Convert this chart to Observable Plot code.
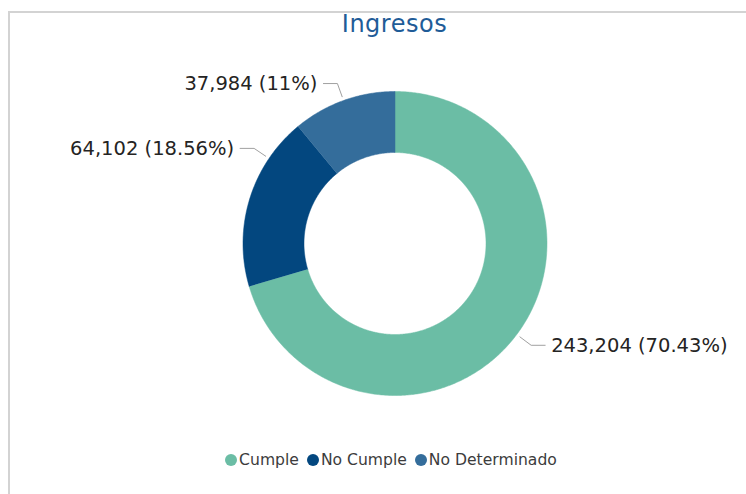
<!DOCTYPE html>
<html><head><meta charset="utf-8">
<script src="https://cdn.jsdelivr.net/npm/d3@7"></script>
<script src="https://cdn.jsdelivr.net/npm/@observablehq/plot@0.6"></script>
<style>
html,body{margin:0;padding:0;background:#fff;width:746px;height:494px;overflow:hidden;position:relative;font-family:"DejaVu Sans",Verdana,sans-serif;}
#frame{position:absolute;left:8px;top:11px;width:760px;height:500px;border:2px solid #d3d3d3;box-sizing:border-box;pointer-events:none;z-index:5}
#title{position:absolute;left:0;top:4px;width:789px;text-align:center;font-size:24px;line-height:40px;color:#1f5c98;letter-spacing:0.5px}
#chart{position:absolute;left:0;top:40px}
#legend{position:absolute;left:0;top:448px;width:782px;height:24px;display:flex;justify-content:center;align-items:center;font-size:15.6px;color:#3c3c3c}
.item{display:flex;align-items:center;margin:0 4px}
.sw{width:12px;height:12px;border-radius:50%;margin-right:2px}
</style></head>
<body>
<div id="title"></div><div id="chart"></div><div id="legend"></div><div id="frame"></div>
<script>
const title = "Ingresos";
const categories = ["Cumple", "No Cumple", "No Determinado"];
const values = [243204, 64102, 37984];
const colors = ["#6bbda5", "#03477f", "#346d9b"];

const total = d3.sum(values);
const fmtNum = d3.format(",");
const fmtPct = d3.format(".2~%");

document.getElementById("title").textContent = title;

const R = 152, cxPx = 394.5, W = 746, H = 400, cyPx = 203;
const ri = 91 / 152;
const arcs = d3.pie().sort(null).value(d => d)(values);

const poly = [];
arcs.forEach((a, i) => {
  const n = Math.max(8, Math.ceil((a.endAngle - a.startAngle) * 180 / Math.PI * 2));
  for (let k = 0; k <= n; k++) {
    const t = a.startAngle + (a.endAngle - a.startAngle) * k / n;
    poly.push({cat: categories[i], x: Math.sin(t), y: Math.cos(t)});
  }
  for (let k = n; k >= 0; k--) {
    const t = a.startAngle + (a.endAngle - a.startAngle) * k / n;
    poly.push({cat: categories[i], x: ri * Math.sin(t), y: ri * Math.cos(t)});
  }
});

const anchorFrac = [0.5, 0.755, 0.5];
const r1 = 156 / R, r2 = 170 / R, hlen = 14 / R;
const leaders = [], labels = [];
arcs.forEach((a, i) => {
  const t = a.startAngle + (a.endAngle - a.startAngle) * anchorFrac[i];
  const s = Math.sin(t) >= 0 ? 1 : -1;
  const ex = r2 * Math.sin(t), ey = r2 * Math.cos(t);
  leaders.push({i, x: r1 * Math.sin(t), y: r1 * Math.cos(t)}, {i, x: ex, y: ey}, {i, x: ex + s * hlen, y: ey});
  labels.push({x: ex + s * hlen, y: ey, side: s, text: `${fmtNum(values[i])} (${fmtPct(values[i] / total)})`});
});

const plot = Plot.plot({
  width: W, height: H, margin: 0,
  x: {domain: [-cxPx / R, (W - cxPx) / R], axis: null},
  y: {domain: [-(H - cyPx) / R, cyPx / R], axis: null},
  color: {domain: categories, range: colors},
  style: {background: "transparent", fontFamily: "DejaVu Sans, sans-serif"},
  marks: [
    Plot.line(poly, {x: "x", y: "y", z: "cat", fill: "cat", stroke: "cat", strokeWidth: 0.5}),
    Plot.line(leaders, {x: "x", y: "y", z: "i", stroke: "#a0a0a0", strokeWidth: 1}),
    Plot.text(labels.filter(d => d.side > 0), {x: "x", y: "y", text: "text", textAnchor: "start", dx: 6, fontSize: 19.5, fill: "#252423"}),
    Plot.text(labels.filter(d => d.side < 0), {x: "x", y: "y", text: "text", textAnchor: "end", dx: -6, fontSize: 19.5, fill: "#252423"})
  ]
});
document.getElementById("chart").appendChild(plot);

const legend = document.getElementById("legend");
categories.forEach((c, i) => {
  const it = document.createElement("div");
  it.className = "item";
  const sw = document.createElement("span");
  sw.className = "sw";
  sw.style.background = colors[i];
  const tx = document.createElement("span");
  tx.textContent = c;
  it.appendChild(sw); it.appendChild(tx);
  legend.appendChild(it);
});
</script>
</body></html>
